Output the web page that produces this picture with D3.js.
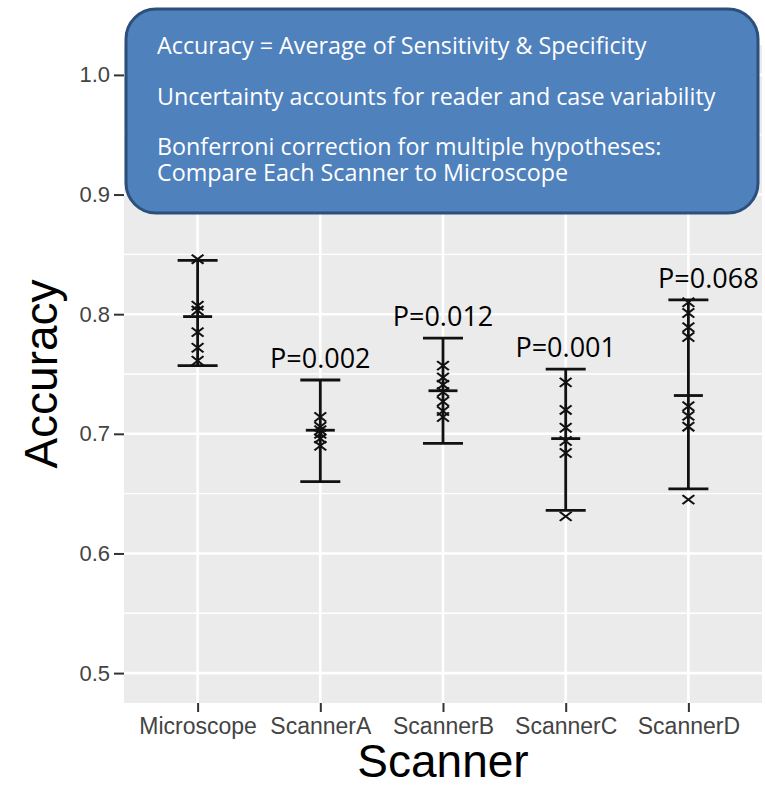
<!DOCTYPE html>
<html>
<head>
<meta charset="utf-8">
<script src="https://cdn.jsdelivr.net/npm/d3@7"></script>
<style>
  body { margin: 0; background: #fff; }
  svg { display: block; }
</style>
</head>
<body>
<div id="chart"></div>
<script>
// -DATA-
const groups = ["Microscope", "ScannerA", "ScannerB", "ScannerC", "ScannerD"];
const means = [0.798, 0.703, 0.736, 0.696, 0.732];
const lower = [0.757, 0.660, 0.692, 0.636, 0.654];
const upper = [0.845, 0.745, 0.780, 0.754, 0.812];
const pLabels = ["", "P=0.002", "P=0.012", "P=0.001", "P=0.068"];
// individual reader accuracies (x markers)
const readers = [
  [0.846, 0.807, 0.803, 0.785, 0.772, 0.761],
  [0.714, 0.706, 0.703, 0.700, 0.696, 0.690],
  [0.757, 0.747, 0.741, 0.735, 0.727, 0.719, 0.714],
  [0.743, 0.720, 0.705, 0.694, 0.684, 0.631],
  [0.810, 0.801, 0.789, 0.781, 0.723, 0.715, 0.706, 0.645]
];
const yTicks = [0.5, 0.6, 0.7, 0.8, 0.9, 1.0];
const yMinor = [0.55, 0.65, 0.75, 0.85, 0.95];
const noteLines = [
  "Accuracy = Average of Sensitivity & Specificity",
  "Uncertainty accounts for reader and case variability",
  "Bonferroni correction for multiple hypotheses:",
  "Compare Each Scanner to Microscope"
];

// -SIZES-
const svg_w = 765, svg_h = 788;
const panel = {left: 124, right: 762, top: 45, bottom: 703};

const svg = d3.select("#chart").append("svg")
  .attr("width", svg_w).attr("height", svg_h);

// scales (ggplot-ish: 0.6 unit expansion on discrete x)
const xScale = d3.scalePoint()
  .domain(groups)
  .range([panel.left, panel.right])
  .padding(0.6);
const yScale = d3.scaleLinear()
  .domain([0.475, 1.025])
  .range([panel.bottom, panel.top]);

// panel bg
svg.append("rect")
  .attr("x", panel.left).attr("y", panel.top)
  .attr("width", panel.right - panel.left)
  .attr("height", panel.bottom - panel.top)
  .attr("fill", "#ebebeb");

// grid
svg.append("g").selectAll("line").data(yMinor).enter().append("line")
  .attr("x1", panel.left).attr("x2", panel.right)
  .attr("y1", d => yScale(d)).attr("y2", d => yScale(d))
  .attr("stroke", "#fff").attr("stroke-width", 1.4);
svg.append("g").selectAll("line").data(yTicks).enter().append("line")
  .attr("x1", panel.left).attr("x2", panel.right)
  .attr("y1", d => yScale(d)).attr("y2", d => yScale(d))
  .attr("stroke", "#fff").attr("stroke-width", 2.6);
svg.append("g").selectAll("line").data(groups).enter().append("line")
  .attr("x1", d => xScale(d)).attr("x2", d => xScale(d))
  .attr("y1", panel.top).attr("y2", panel.bottom)
  .attr("stroke", "#fff").attr("stroke-width", 2.6);

// axes
const yAxis = d3.axisLeft(yScale).tickValues(yTicks)
  .tickFormat(d3.format(".1f")).tickSize(10).tickPadding(4);
const yG = svg.append("g")
  .attr("id", "y-axis")
  .attr("transform", "translate(" + panel.left + ",0)")
  .call(yAxis);
const xAxis = d3.axisBottom(xScale).tickSize(9).tickPadding(6);
const xG = svg.append("g")
  .attr("id", "x-axis")
  .attr("transform", "translate(0," + panel.bottom + ")")
  .call(xAxis);
[yG, xG].forEach(g => {
  g.select(".domain").remove();
  g.selectAll(".tick line").attr("stroke", "#333").attr("stroke-width", 2);
  g.selectAll(".tick text")
    .attr("fill", "#444")
    .attr("font-family", "Liberation Sans, Arial, sans-serif");
});
yG.selectAll(".tick text").attr("font-size", 22);
xG.selectAll(".tick text").attr("font-size", 23);

// axis titles
svg.append("text")
  .attr("x", (panel.left + panel.right) / 2)
  .attr("y", 777)
  .attr("text-anchor", "middle")
  .attr("font-family", "Liberation Sans, Arial, sans-serif")
  .attr("font-size", 46)
  .text("Scanner");
svg.append("text")
  .attr("transform", "translate(57," + ((panel.top + panel.bottom) / 2) + ") rotate(-90)")
  .attr("text-anchor", "middle")
  .attr("font-family", "Liberation Sans, Arial, sans-serif")
  .attr("font-size", 46)
  .text("Accuracy");

// -ERROR BARS-
const capW = 40, meanW = 29;
const bars = svg.append("g").selectAll("g").data(groups).enter().append("g")
  .attr("stroke", "#111").attr("stroke-width", 2.8);
bars.append("line")
  .attr("x1", d => xScale(d)).attr("x2", d => xScale(d))
  .attr("y1", (d, i) => yScale(upper[i])).attr("y2", (d, i) => yScale(lower[i]));
bars.append("line")
  .attr("x1", d => xScale(d) - capW / 2).attr("x2", d => xScale(d) + capW / 2)
  .attr("y1", (d, i) => yScale(upper[i])).attr("y2", (d, i) => yScale(upper[i]));
bars.append("line")
  .attr("x1", d => xScale(d) - capW / 2).attr("x2", d => xScale(d) + capW / 2)
  .attr("y1", (d, i) => yScale(lower[i])).attr("y2", (d, i) => yScale(lower[i]));
bars.append("line")
  .attr("x1", d => xScale(d) - meanW / 2).attr("x2", d => xScale(d) + meanW / 2)
  .attr("y1", (d, i) => yScale(means[i])).attr("y2", (d, i) => yScale(means[i]));

// reader markers
const xSym = d3.symbol().type(d3.symbolTimes).size(70);
const pts = [];
readers.forEach((arr, i) => arr.forEach(v => pts.push({g: groups[i], v: v})));
svg.append("g").selectAll("path").data(pts).enter().append("path")
  .attr("d", xSym)
  .attr("transform", d => "translate(" + xScale(d.g) + "," + yScale(d.v) + ") scale(1.15,0.9)")
  .attr("fill", "none")
  .attr("stroke", "#111")
  .attr("stroke-width", 2);

// p values
const labelShift = {ScannerD: 20};
svg.append("g").selectAll("text").data(groups.filter((d, i) => pLabels[i])).enter().append("text")
  .attr("x", d => xScale(d) + (labelShift[d] || 0))
  .attr("y", d => yScale(upper[groups.indexOf(d)]) - 12)
  .attr("text-anchor", "middle")
  .attr("font-family", "Open Sans, sans-serif")
  .attr("font-size", 27)
  .attr("fill", "#000")
  .text(d => pLabels[groups.indexOf(d)]);

// -NOTE BOX-
svg.append("rect")
  .attr("x", 126).attr("y", 9)
  .attr("width", 632).attr("height", 204)
  .attr("rx", 30).attr("ry", 30)
  .attr("fill", "#4f81bd")
  .attr("stroke", "#2c4f7c")
  .attr("stroke-width", 3);
const noteY = [54, 105, 155, 181];
svg.append("g").selectAll("text").data(noteLines).enter().append("text")
  .attr("x", 157)
  .attr("y", (d, i) => noteY[i])
  .attr("font-family", "Open Sans, sans-serif")
  .attr("font-size", 23.3)
  .attr("fill", "#fff")
  .text(d => d);
</script>
</body>
</html>
